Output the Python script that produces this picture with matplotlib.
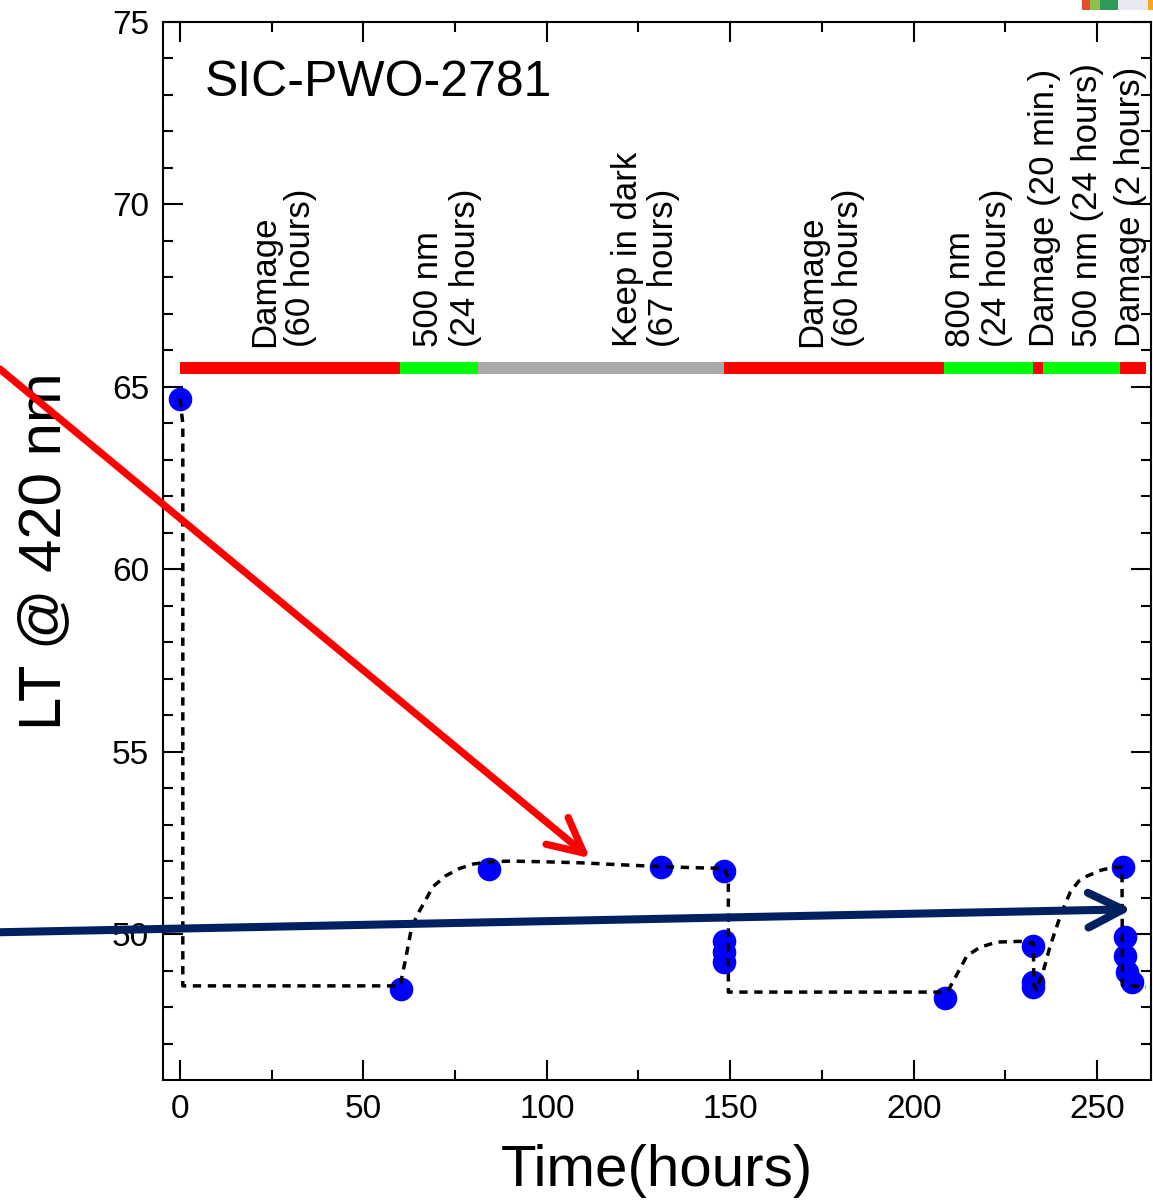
import matplotlib
matplotlib.use("Agg")
import matplotlib.pyplot as plt
from matplotlib.patches import Rectangle

plt.rcParams['font.family'] = ['Liberation Sans', 'DejaVu Sans']

# measured points
t_pts = [0, 60.2, 84.2, 131.1, 148.3, 148.4, 148.4, 148.4, 208.6,
         232.6, 232.6, 232.6, 257.1, 257.6, 257.6, 258.2, 259.5]
lt_pts = [64.67, 48.49, 51.78, 51.83, 51.72, 49.8, 49.5, 49.23, 48.25,
          49.67, 48.69, 48.55, 51.83, 49.92, 49.40, 48.96, 48.69]

# dashed guide curve
t_curve = [0, 0.8, 0.8, 60.0, 61.5, 63.2, 65.4, 69.0, 72.5, 76.3, 80.0, 84.5,
           90.0, 100.0, 110.0, 120.0, 131.0, 140.0, 148.5, 149.5, 149.5,
           208.6, 209.4, 211.3, 214.5, 218.1, 222.7, 229.0, 232.6, 232.8,
           233.5, 235.3, 237.2, 240.0, 242.7, 245.0, 247.3, 251.0, 254.4,
           256.8, 256.9, 263.3]
lt_curve = [64.67, 64.0, 48.58, 48.58, 49.3, 50.2, 50.65, 51.3, 51.6, 51.8, 51.92,
            51.98, 52.0, 51.98, 51.95, 51.9, 51.85, 51.82, 51.8, 51.5, 48.41,
            48.41, 48.45, 48.8, 49.4, 49.64, 49.78, 49.8, 49.75, 48.6,
            48.45, 48.97, 49.67, 50.5, 51.15, 51.45, 51.59, 51.75, 51.83,
            51.83, 48.6, 48.55]

# treatment bar
bar_edges = [0, 60.1, 81.2, 148.3, 208.3, 232.6, 235.3, 256.3, 263.4]
bar_colors = ['#ff0000', '#00ff00', '#aaaaaa', '#ff0000', '#00ff00',
              '#ff0000', '#00ff00', '#ff0000']
bar_level = 65.52

labels = ['Damage\n(60 hours)', '500 nm\n(24 hours)', 'Keep in dark\n(67 hours)',
          'Damage\n(60 hours)', '800 nm\n(24 hours)', 'Damage (20 min.)',
          '500 nm (24 hours)', 'Damage (2 hours)']
label_t = [28.0, 72.8, 126.8, 177.2, 217.6, 235.8, 247.5, 259.0]
label_base = 66.1

# overlay arrows (start, tip)
red_arrow = [(-49.1, 65.49), (111.8, 52.08)]
navy_arrow = [(-49.1, 50.05), (259.5, 50.68)]

fig = plt.figure(figsize=(11.53, 12.03), dpi=100)
ax = fig.add_axes([163/1153, 1 - 1080/1203, (1151-163)/1153, (1080-22)/1203])

for i in range(len(bar_colors)):
    ax.plot([bar_edges[i], bar_edges[i+1]], [bar_level, bar_level],
            color=bar_colors[i], lw=8.6, solid_capstyle='butt', zorder=2)

ax.plot(t_pts, lt_pts, 'o', color='#0000ff', ms=17, mec='none', zorder=3)
ax.plot(t_curve, lt_curve, color='black', lw=2.5, ls=(0, (2.4, 1.9)), zorder=4)

for s, x in zip(labels, label_t):
    ax.text(x, label_base, s, rotation=90, ha='center', va='bottom',
            multialignment='left', fontsize=25, linespacing=1.12)

ax.text(6.8, 72.97, 'SIC-PWO-2781', fontsize=36, ha='left', va='baseline')

ax.set_xlim(-4.6, 264.7)
ax.set_ylim(46, 75)
ax.set_xticks([0, 50, 100, 150, 200, 250])
ax.set_xticks([25, 75, 125, 175, 225], minor=True)
ax.set_yticks([50, 55, 60, 65, 70, 75])
ax.set_yticks([y for y in range(47, 75) if y % 5 != 0], minor=True)
ax.tick_params(which='both', direction='in', top=True, right=True,
               width=1.5, labelsize=24, pad=10)
ax.tick_params(which='major', length=14.4)
ax.tick_params(which='minor', length=7.2)
for sp in ax.spines.values():
    sp.set_linewidth(1.5)

ax.set_xlabel('Time(hours)', fontsize=42, labelpad=14)
ax.set_ylabel('LT @ 420 nm', fontsize=43)
ax.yaxis.set_label_coords(-0.092, 0.5)

for (p0, p1), col, lw in [(red_arrow, '#ff0000', 5.2), (navy_arrow, '#002060', 5.8)]:
    ax.annotate('', xy=p1, xytext=p0, xycoords='data', textcoords='data',
                annotation_clip=False,
                arrowprops=dict(arrowstyle='->,head_length=2.5,head_width=1.25',
                                mutation_scale=10, color=col, lw=lw,
                                shrinkA=0, shrinkB=0, capstyle='round',
                                joinstyle='round'), zorder=10)

# bit of a picture peeking in at the top right corner
frag_x = [1082, 1090, 1100, 1118, 1148]
frag_w = [8, 10, 18, 30, 5]
frag_c = ['#e0502a', '#8cc04a', '#2e9a5a', '#e8e8f0', '#f5a623']
for x, w, c in zip(frag_x, frag_w, frag_c):
    fig.patches.append(Rectangle((x/1153, 1 - 10/1203), w/1153, 10/1203,
                                 transform=fig.transFigure, color=c, lw=0))

fig.savefig('out.png', dpi=100)
